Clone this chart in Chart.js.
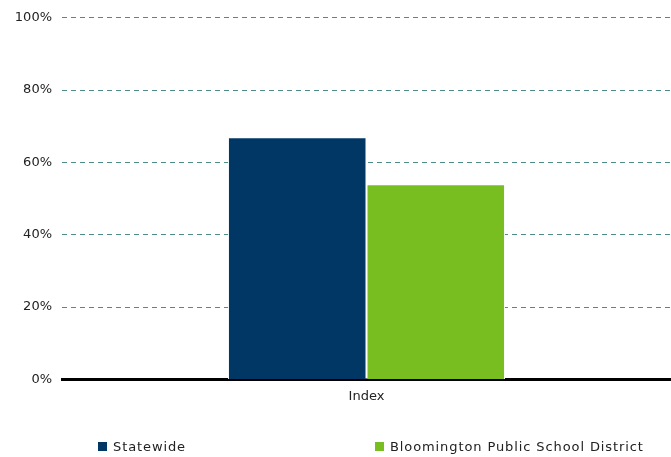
<!DOCTYPE html>
<html>
<head>
<meta charset="utf-8">
<script src="https://cdn.jsdelivr.net/npm/chart.js@4.4.1/dist/chart.umd.min.js"></script>
<style>
  html, body { margin: 0; padding: 0; background: #fff; }
  #wrap { position: relative; width: 671px; height: 457px; }
  #legend { position: absolute; top: 439px; left: 0; width: 671px; height: 20px;
    font: 13px "DejaVu Sans", sans-serif; color: #222; letter-spacing: 0.9px; }
  .item { position: absolute; display: flex; align-items: center; white-space: nowrap; }
  .box { width: 9px; height: 9px; margin-right: 6px; }
</style>
</head>
<body>
<div id="wrap">
  <canvas id="chart" width="671" height="457"></canvas>
  <div id="legend"></div>
</div>
<script>
const categories = ['Index'];
const seriesNames = ['Statewide', 'Bloomington Public School District'];
const statewide = [67];
const district = [54];
const yTicks = [0, 20, 40, 60, 80, 100];
const colors = ['#003764', '#78be20'];
const legendLeft = [98, 375];

const font = { family: '"DejaVu Sans", sans-serif', size: 13 };

const chart = new Chart(document.getElementById('chart'), {
  type: 'bar',
  data: {
    labels: categories,
    datasets: [
      { label: seriesNames[0], data: statewide, backgroundColor: colors[0], borderColor: '#ffffff', borderWidth: 1 },
      { label: seriesNames[1], data: district, backgroundColor: colors[1], borderColor: '#ffffff', borderWidth: 1 }
    ]
  },
  options: {
    responsive: false,
    animation: false,
    layout: { padding: { top: 17, right: 0, left: 0, bottom: 44 } },
    plugins: { legend: { display: false }, tooltip: { enabled: false } },
    datasets: { bar: { categoryPercentage: 0.455, barPercentage: 1 } },
    scales: {
      x: {
        grid: { display: false, drawTicks: false },
        border: { display: true, color: '#000', width: 3 },
        ticks: { color: '#222', font, padding: 9 }
      },
      y: {
        min: 0, max: 100,
        afterBuildTicks: s => { s.ticks = yTicks.map(v => ({ value: v })); },
        afterFit: s => { s.width = 62; },
        grid: { color: '#4e8c8c', drawTicks: false, lineWidth: 1 },
        border: { display: false, dash: [5, 4] },
        ticks: { color: '#222', font, padding: 10, callback: v => v + '%' }
      }
    }
  }
});

// HTML legend built from dataset names/colors
const legend = document.getElementById('legend');
seriesNames.forEach((name, i) => {
  const item = document.createElement('div');
  item.className = 'item';
  item.style.left = legendLeft[i] + 'px';
  item.innerHTML = `<span class="box" style="background:${colors[i]}"></span><span>${name}</span>`;
  legend.appendChild(item);
});
</script>
</body>
</html>
